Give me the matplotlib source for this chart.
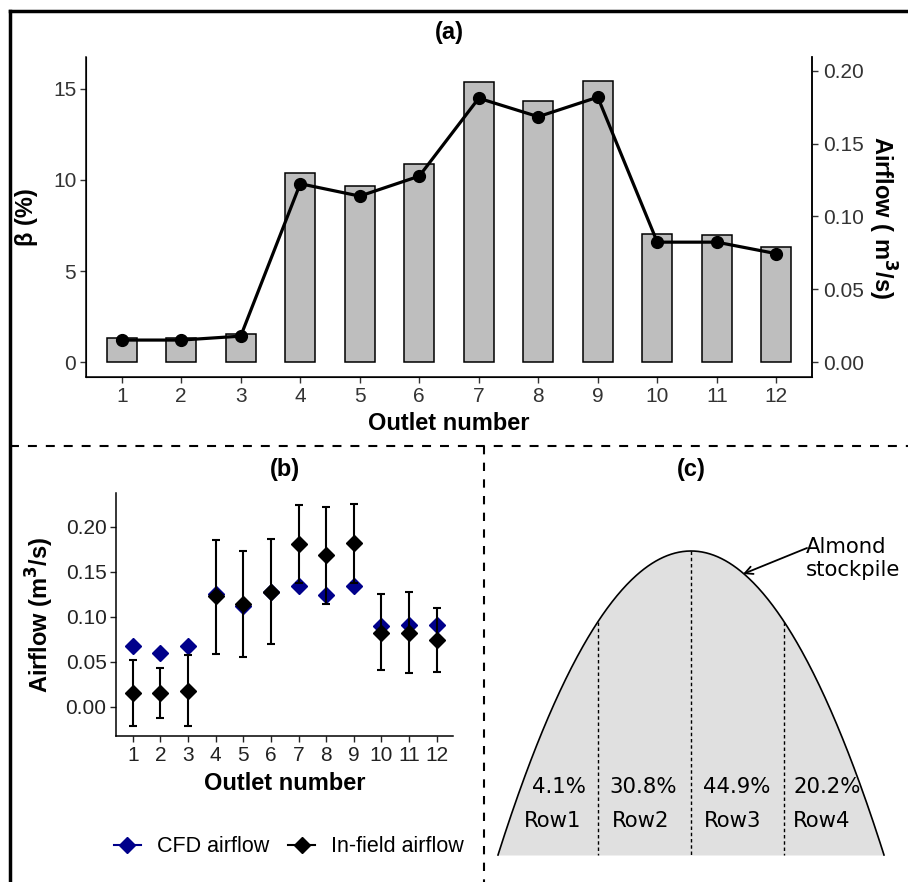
import numpy as np
import matplotlib
matplotlib.use("Agg")
import matplotlib.pyplot as plt
from matplotlib.lines import Line2D

# ---------------- data ----------------
outlets = list(range(1, 13))
outlet_labels = [str(i) for i in outlets]
beta_pct = [1.30, 1.30, 1.56, 10.36, 9.68, 10.85, 15.37, 14.31, 15.42, 7.03, 6.99, 6.30]
infield_airflow = [0.0151, 0.0151, 0.0178, 0.1224, 0.1139, 0.1276, 0.1811, 0.1684, 0.1818, 0.0823, 0.0823, 0.0744]
infield_lower = [-0.0215, -0.0130, -0.0215, 0.0589, 0.0552, 0.0693, 0.1378, 0.1144, 0.1378, 0.0404, 0.0374, 0.0385]
infield_upper = [0.0515, 0.0433, 0.0574, 0.1856, 0.1726, 0.1859, 0.2237, 0.2215, 0.2252, 0.1248, 0.1270, 0.1096]
cfd_airflow = [0.0674, 0.0600, 0.0674, 0.1250, 0.1120, 0.1270, 0.1340, 0.1240, 0.1340, 0.0896, 0.0907, 0.0904]
beta_ticks = [0, 5, 10, 15]
airflow_ticks_a = [0.00, 0.05, 0.10, 0.15, 0.20]
airflow_ticks_b = [0.00, 0.05, 0.10, 0.15, 0.20]
row_names = ["Row1", "Row2", "Row3", "Row4"]
row_share_pct = [4.1, 30.8, 44.9, 20.2]

AIR_PER_BETA = 0.0125   # secondary-axis scale (airflow per % beta)

W, H = 908, 882
fig = plt.figure(figsize=(W / 100, H / 100), dpi=100)

SANS = ["Liberation Sans", "DejaVu Sans"]
plt.rcParams["font.family"] = SANS


def rect(x0, y0, x1, y1):
    return [x0 / W, 1 - y1 / H, (x1 - x0) / W, (y1 - y0) / H]


TICK_FS = 15
LAB_FS = 17
TITLE_FS = 17
TCOL = "#333333"

# ---------------- background overlay (frame & separators) ----------------
bg = fig.add_axes([0, 0, 1, 1], zorder=-5)
bg.set_xlim(0, W)
bg.set_ylim(H, 0)
bg.axis("off")
bg.plot([10, W], [11, 11], color="black", lw=2.5, solid_capstyle="projecting")
bg.plot([10, 10], [11, H], color="black", lw=2.5, solid_capstyle="projecting")
bg.plot([10, W], [446, 446], color="black", lw=1.5, linestyle=(0, (4.3, 4.3)))
bg.plot([484, 484], [446, H], color="black", lw=1.5, linestyle=(0, (4.0, 4.0)))

# ---------------- panel (a) ----------------
axa = fig.add_axes(rect(86, 57, 812, 377))
axa.bar(outlets, beta_pct, width=0.5, color="#BEBEBE", edgecolor="black", linewidth=1.1, zorder=2)
axa.set_xlim(0.4, 12.6)
axa.set_ylim(-0.82, 16.75)
axa.set_xticks(outlets)
axa.set_xticklabels(outlet_labels)
axa.set_yticks(beta_ticks)
axa.spines["top"].set_visible(False)
for s in ["left", "bottom", "right"]:
    axa.spines[s].set_linewidth(1.1)
axa.tick_params(axis="both", labelsize=TICK_FS, length=4, width=1.0, colors=TCOL, labelcolor=TCOL, pad=3)
axa.set_xlabel("Outlet number", fontsize=LAB_FS, fontweight="bold")
axa.set_ylabel("β (%)", fontsize=LAB_FS, fontweight="bold")
axa.xaxis.set_label_coords(0.5, (377 - 423) / 320)
axa.xaxis.label.set_va("center")
axa.yaxis.set_label_coords((27 - 86) / 726, 0.5)
axa.yaxis.label.set_va("center")

axa2 = axa.twinx()
axa2.plot(outlets, infield_airflow, color="black", lw=2.3, marker="o", markersize=8.5, zorder=3)
axa2.set_ylim(-0.82 * AIR_PER_BETA, 16.75 * AIR_PER_BETA)
axa2.set_yticks(airflow_ticks_a)
axa2.set_yticklabels([f"{v:.2f}" for v in airflow_ticks_a])
axa2.spines["top"].set_visible(False)
axa2.spines["right"].set_linewidth(1.1)
axa2.tick_params(axis="y", labelsize=TICK_FS, length=4, width=1.0, colors=TCOL, labelcolor=TCOL, pad=4)
axa2.set_ylabel("Airflow ( m$^\\mathbf{3}$/s)", fontsize=LAB_FS, fontweight="bold", rotation=-90)
axa2.yaxis.set_label_coords((882 - 86) / 726, 0.5)
axa2.yaxis.label.set_va("center")
fig.text(449 / W, 1 - 33 / H, "(a)", ha="center", va="center", fontsize=TITLE_FS, fontweight="bold")

# ---------------- panel (b) ----------------
axb = fig.add_axes(rect(116.3, 493.3, 453.3, 736.3))
axb.plot(outlets, cfd_airflow, linestyle="none", marker="D", markersize=8, color="#00008B", zorder=2)
yerr = [np.array(infield_airflow) - np.array(infield_lower), np.array(infield_upper) - np.array(infield_airflow)]
axb.errorbar(outlets, infield_airflow, yerr=yerr, fmt="none", ecolor="black", elinewidth=1.5,
             capsize=2.6, capthick=1.5, zorder=3)
axb.plot(outlets, infield_airflow, linestyle="none", marker="D", markersize=8, color="black", zorder=4)
axb.set_xlim(0.4, 12.6)
axb.set_ylim(-0.0329, 0.237)
axb.set_xticks(outlets)
axb.set_xticklabels(outlet_labels)
axb.set_yticks(airflow_ticks_b)
axb.set_yticklabels([f"{v:.2f}" for v in airflow_ticks_b])
axb.spines["top"].set_visible(False)
axb.spines["right"].set_visible(False)
for s in ["left", "bottom"]:
    axb.spines[s].set_linewidth(1.1)
axb.tick_params(axis="both", labelsize=TICK_FS, length=4, width=1.0, colors="#222222", labelcolor="#222222", pad=3)
axb.set_xlabel("Outlet number", fontsize=LAB_FS, fontweight="bold")
axb.xaxis.set_label_coords(0.5, (736.3 - 783) / 243)
axb.xaxis.label.set_va("center")
axb.set_ylabel("Airflow (m$^\\mathbf{3}$/s)", fontsize=LAB_FS, fontweight="bold")
axb.yaxis.set_label_coords((40 - 116.3) / 337, 0.5)
axb.yaxis.label.set_va("center")
fig.text(285 / W, 1 - 470 / H, "(b)", ha="center", va="center", fontsize=TITLE_FS, fontweight="bold")

handles = [Line2D([], [], color="#00008B", marker="D", markersize=8, lw=1.5),
           Line2D([], [], color="black", marker="D", markersize=8, lw=1.5)]
fig.legend(handles, ["CFD airflow", "In-field airflow"], loc="center", ncol=2,
           bbox_to_anchor=(289 / W, 1 - 847 / H), frameon=False, fontsize=15.5,
           handlelength=1.25, handletextpad=0.75, columnspacing=0.9)

# ---------------- panel (c) ----------------
axc = fig.add_axes([0, 0, 1, 1], zorder=-4)
axc.set_xlim(0, W)
axc.set_ylim(H, 0)
axc.axis("off")
cx, half_w, top_y, base_y = 691, 193, 551, 855
xs = np.linspace(cx - half_w, cx + half_w, 400)
ys = top_y + (base_y - top_y) * ((xs - cx) / half_w) ** 2
axc.fill_between(xs, ys, base_y, color="#E0E0E0", lw=0)
axc.plot(xs, ys, color="black", lw=1.2)
for dx in [-93, 0, 93]:
    xd = cx + dx
    yd = top_y + (base_y - top_y) * (dx / half_w) ** 2
    axc.plot([xd, xd], [yd, base_y], color="black", lw=1.0, linestyle=(0, (2.5, 2.0)))

C_FS = 15.3
pct_x = [559, 642.7, 736.7, 827.3]
row_x = [553, 641, 732.7, 821.7]
for xp, xr, name, share in zip(pct_x, row_x, row_names, row_share_pct):
    axc.text(xp, 786.7, f"{share:.1f}%", ha="center", va="center", fontsize=C_FS, family="DejaVu Sans")
    axc.text(xr, 820.7, name, ha="center", va="center", fontsize=C_FS, family="DejaVu Sans")

axc.annotate("", xy=(743, 574), xytext=(807, 548),
             arrowprops=dict(arrowstyle="->", color="black", lw=1.3, shrinkA=0, shrinkB=0,
                             mutation_scale=14))
axc.text(806, 537, "Almond\nstockpile", ha="left", va="top", fontsize=C_FS,
         family="DejaVu Sans", linespacing=1.2)
fig.text(691.7 / W, 1 - 470 / H, "(c)", ha="center", va="center", fontsize=TITLE_FS, fontweight="bold")

fig.savefig("out.png", dpi=100)
